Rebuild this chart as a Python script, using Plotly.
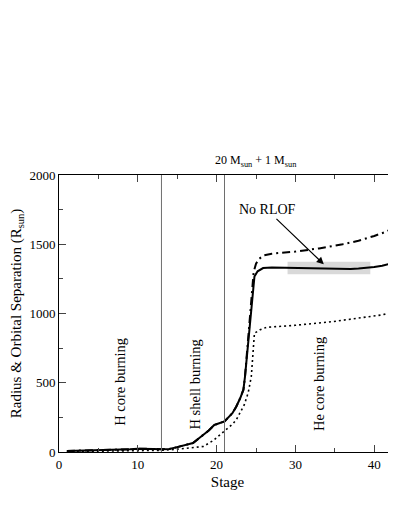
import plotly.graph_objects as go

# Sabit veriler
stage_r = [1, 3, 5, 7, 9, 10, 11, 12, 13, 14, 15, 16, 17, 18, 19, 19.7, 20.3, 21, 22, 22.5, 23, 23.4,
           23.6, 24, 24.4, 24.8, 25.2, 25.9, 27, 29, 31, 33, 35, 36, 37, 38, 39, 40, 41, 42, 42.8]
radius = [8, 10, 13, 16, 20, 24, 25, 22, 20, 22, 35, 50, 65, 110, 155, 195, 205, 221, 280, 329, 390, 450,
          545, 786, 1050, 1267, 1305, 1328, 1332, 1330, 1328, 1326, 1320, 1318, 1322, 1325, 1328, 1335, 1345, 1360, 1385]

stage_a = [1, 3, 5, 7, 9, 10, 11, 12, 13, 14, 15, 16, 17, 18, 19, 19.7, 20.3, 21, 22, 22.5, 23, 23.4,
           23.6, 24, 24.4, 24.7, 25, 25.4, 26, 27, 30, 33, 36, 38, 40, 41.5, 42.8]
separation = [8, 10, 13, 16, 20, 24, 25, 22, 20, 22, 35, 50, 65, 110, 155, 195, 205, 221, 280, 329, 390, 450,
              545, 800, 1080, 1300, 1360, 1395, 1420, 1432, 1447, 1470, 1500, 1525, 1560, 1590, 1630]

stage_d = [1, 5, 10, 13, 15, 17, 18.3, 19.5, 21, 22, 22.5, 23.5, 24, 24.4, 24.8, 25.5, 26.3, 27.8, 30, 34.8, 38, 41, 42.8]
dotted = [3, 5, 10, 12, 20, 30, 40, 80, 149, 200, 233, 340, 426, 545, 858, 882, 900, 906, 915, 942, 965, 990, 1014]

phase_bounds = [13, 21]
phase_labels = ["H core burning", "H shell burning", "He core burning"]
phase_label_x = [7.7, 17.3, 32.9]
phase_label_y = [505, 490, 493]

no_rlof_box = [29.0, 39.5, 1284, 1373]

FONT = "Times New Roman, Liberation Serif, serif"

fig = go.Figure()

fig.add_shape(type="rect", xref="x", yref="y",
              x0=no_rlof_box[0], x1=no_rlof_box[1], y0=no_rlof_box[2], y1=no_rlof_box[3],
              fillcolor="#d9d9d9", line_width=0, layer="below")

for xb in phase_bounds:
    fig.add_shape(type="line", xref="x", yref="y", x0=xb, x1=xb, y0=0, y1=2000,
                  line=dict(color="#6e6e6e", width=1))

fig.add_trace(go.Scatter(x=stage_d, y=dotted, mode="lines",
                         line=dict(color="black", width=1.6, dash="2px,3px")))
fig.add_trace(go.Scatter(x=stage_a, y=separation, mode="lines",
                         line=dict(color="black", width=2, dash="8px,4px,2px,4px")))
fig.add_trace(go.Scatter(x=stage_r, y=radius, mode="lines",
                         line=dict(color="black", width=2)))

for lbl, lx, ly in zip(phase_labels, phase_label_x, phase_label_y):
    fig.add_annotation(x=lx, y=ly, text=lbl, textangle=-90, showarrow=False,
                       font=dict(family=FONT, size=14.5, color="black"))

fig.add_annotation(x=33.6, y=1355, ax=26.4, ay=1748, axref="x", ayref="y",
                   text="No RLOF", showarrow=True, arrowhead=2, arrowsize=1.2,
                   arrowwidth=1.2, arrowcolor="black", standoff=0,
                   font=dict(family=FONT, size=14, color="black"))

fig.add_annotation(x=25, y=1, xref="x", yref="paper", yanchor="bottom", yshift=4,
                   text="20 M<sub>sun</sub> + 1 M<sub>sun</sub>", showarrow=False,
                   font=dict(family=FONT, size=12, color="black"))

# Sayfa gövdesi 8px kaydırdığı için figür 8px küçük, kenar boşlukları buna göre
fig.update_layout(
    width=388, height=504,
    margin=dict(l=51, r=0, t=167, b=60),
    paper_bgcolor="white", plot_bgcolor="white",
    showlegend=False,
    font=dict(family=FONT, size=13, color="black"),
    xaxis=dict(range=[0, 42.76], tickvals=[0, 10, 20, 30, 40], ticks="inside", ticklen=7,
               minor=dict(tickvals=[5, 15, 25, 35], ticks="inside", ticklen=4),
               showline=True, linecolor="black", linewidth=1, mirror="ticks",
               showgrid=False, zeroline=False, automargin=False,
               title=dict(text="Stage", font=dict(size=15), standoff=5),
               tickfont=dict(size=13)),
    yaxis=dict(range=[0, 2000], tickvals=[0, 500, 1000, 1500, 2000], ticks="inside", ticklen=7,
               minor=dict(tickvals=[250, 750, 1250, 1750], ticks="inside", ticklen=4),
               showline=True, linecolor="black", linewidth=1, mirror=False,
               showgrid=False, zeroline=False, automargin=False,
               title=dict(text="Radius & Orbital Separation (R<sub>sun</sub>)", font=dict(size=15), standoff=6),
               tickfont=dict(size=13)),
)

fig.write_html("out.html")
